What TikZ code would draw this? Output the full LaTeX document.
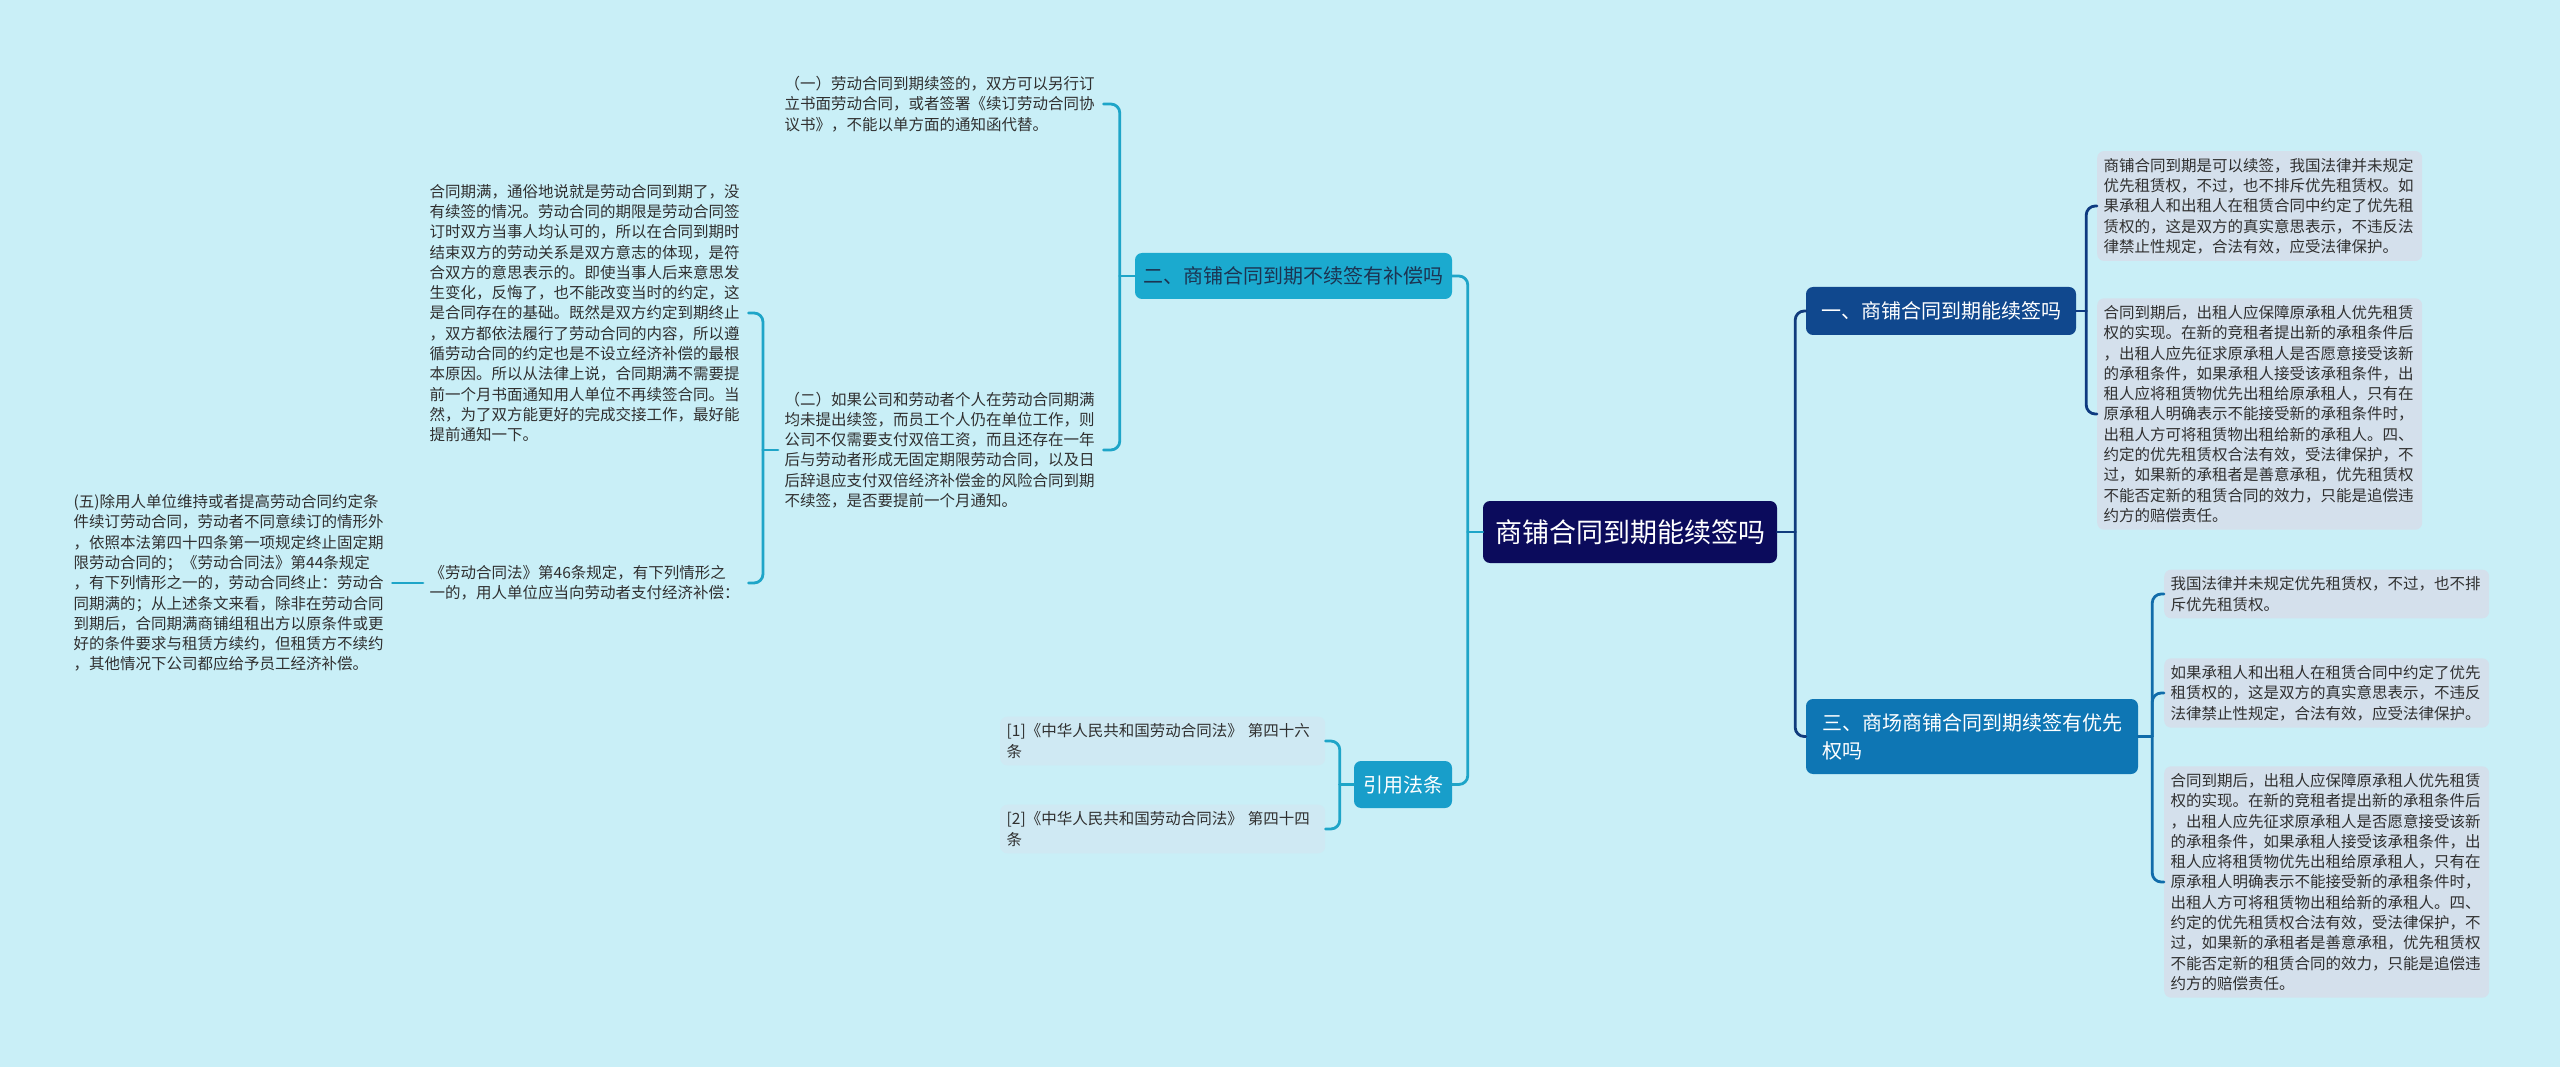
\documentclass[tikz,border=0pt]{standalone}
\usepackage{fontspec}
\setmainfont{Noto Sans CJK SC}
\definecolor{bgc}{RGB}{201,239,247}
\definecolor{rootc}{RGB}{11,11,92}
\definecolor{onec}{RGB}{16,72,142}
\definecolor{twoc}{RGB}{27,170,207}
\definecolor{threec}{RGB}{14,118,180}
\definecolor{citec}{RGB}{24,158,202}
\definecolor{leafc}{RGB}{212,224,236}
\definecolor{refc}{RGB}{207,233,243}
\definecolor{txtc}{RGB}{48,48,48}
\definecolor{twotxt}{RGB}{28,52,82}
\definecolor{rootl}{RGB}{17,60,125}
\definecolor{onel}{RGB}{14,58,128}
\definecolor{threel}{RGB}{16,108,170}
\definecolor{twol}{RGB}{30,165,200}
\begin{document}
\begin{tikzpicture}[x=1pt, y=-1pt, line join=round, line cap=round,
	leaf/.style={anchor=west, text width=312pt, align=left, inner xsep=6.5pt, inner ysep=7pt, rounded corners=7pt, text=txtc, font=\fontsize{15.5pt}{20.3pt}\selectfont},
	leafbox/.style={leaf, fill=leafc},
	refbox/.style={leaf, fill=refc},
	topic/.style={rounded corners=7pt, inner xsep=8pt, inner ysep=4pt, font=\fontsize{20pt}{28pt}\selectfont},
	link/.style={line width=2.8pt, rounded corners=9pt}]
	\useasboundingbox[fill=bgc] (0,0) rectangle (2560,1067);
	\node[topic, fill=rootc, text=white, font=\fontsize{27pt}{32pt}\selectfont, minimum width=294pt, minimum height=62pt] (root) at (1630,532) {商铺合同到期能续签吗};
	\node[topic, fill=onec, text=white, minimum width=270pt, minimum height=48pt] (one) at (1941,311) {一、商铺合同到期能续签吗};
	\node[topic, fill=twoc, text=twotxt, minimum width=317pt, minimum height=46pt] (two) at (1293.5,276) {二、商铺合同到期不续签有补偿吗};
	\node[topic, fill=threec, text=white, text width=300pt, align=left, inner xsep=16pt, minimum height=75pt] (three) at (1972,736.5) {三、商场商铺合同到期续签有优先\\权吗};
	\node[topic, fill=citec, text=white, minimum width=98pt, minimum height=47pt] (cite) at (1403,784.5) {引用法条};
	\node[leafbox] (lease) at (2097,206) {商铺合同到期是可以续签，我国法律并未规定\\优先租赁权，不过，也不排斥优先租赁权。如\\果承租人和出租人在租赁合同中约定了优先租\\赁权的，这是双方的真实意思表示，不违反法\\律禁止性规定，合法有效，应受法律保护。};
	\node[leafbox] (expire) at (2097,414) {合同到期后，出租人应保障原承租人优先租赁\\权的实现。在新的竞租者提出新的承租条件后\\，出租人应先征求原承租人是否愿意接受该新\\的承租条件，如果承租人接受该承租条件，出\\租人应将租赁物优先出租给原承租人，只有在\\原承租人明确表示不能接受新的承租条件时，\\出租人方可将租赁物出租给新的承租人。四、\\约定的优先租赁权合法有效，受法律保护，不\\过，如果新的承租者是善意承租，优先租赁权\\不能否定新的租赁合同的效力，只能是追偿违\\约方的赔偿责任。};
	\node[leafbox] (nolaw) at (2164,594) {我国法律并未规定优先租赁权，不过，也不排\\斥优先租赁权。};
	\node[leafbox] (agree) at (2164,693) {如果承租人和出租人在租赁合同中约定了优先\\租赁权的，这是双方的真实意思表示，不违反\\法律禁止性规定，合法有效，应受法律保护。};
	\node[leafbox] (protect) at (2164,882) {合同到期后，出租人应保障原承租人优先租赁\\权的实现。在新的竞租者提出新的承租条件后\\，出租人应先征求原承租人是否愿意接受该新\\的承租条件，如果承租人接受该承租条件，出\\租人应将租赁物优先出租给原承租人，只有在\\原承租人明确表示不能接受新的承租条件时，\\出租人方可将租赁物出租给新的承租人。四、\\约定的优先租赁权合法有效，受法律保护，不\\过，如果新的承租者是善意承租，优先租赁权\\不能否定新的租赁合同的效力，只能是追偿违\\约方的赔偿责任。};
	\node[leaf] (renew) at (778,104) {（一）劳动合同到期续签的，双方可以另行订\\立书面劳动合同，或者签署《续订劳动合同协\\议书》，不能以单方面的通知函代替。};
	\node[leaf] (norenew) at (778,450) {（二）如果公司和劳动者个人在劳动合同期满\\均未提出续签，而员工个人仍在单位工作，则\\公司不仅需要支付双倍工资，而且还存在一年\\后与劳动者形成无固定期限劳动合同，以及日\\后辞退应支付双倍经济补偿金的风险合同到期\\不续签，是否要提前一个月通知。};
	\node[leaf] (full) at (423,313) {合同期满，通俗地说就是劳动合同到期了，没\\有续签的情况。劳动合同的期限是劳动合同签\\订时双方当事人均认可的，所以在合同到期时\\结束双方的劳动关系是双方意志的体现，是符\\合双方的意思表示的。即使当事人后来意思发\\生变化，反悔了，也不能改变当时的约定，这\\是合同存在的基础。既然是双方约定到期终止\\，双方都依法履行了劳动合同的内容，所以遵\\循劳动合同的约定也是不设立经济补偿的最根\\本原因。所以从法律上说，合同期满不需要提\\前一个月书面通知用人单位不再续签合同。当\\然，为了双方能更好的完成交接工作，最好能\\提前通知一下。};
	\node[leaf] (art46) at (423,583) {《劳动合同法》第46条规定，有下列情形之\\一的，用人单位应当向劳动者支付经济补偿：};
	\node[leaf] (item5) at (67,583) {(五)除用人单位维持或者提高劳动合同约定条\\件续订劳动合同，劳动者不同意续订的情形外\\，依照本法第四十四条第一项规定终止固定期\\限劳动合同的；《劳动合同法》第44条规定\\，有下列情形之一的，劳动合同终止：劳动合\\同期满的；从上述条文来看，除非在劳动合同\\到期后，合同期满商铺组租出方以原条件或更\\好的条件要求与租赁方续约，但租赁方不续约\\，其他情况下公司都应给予员工经济补偿。};
	\node[refbox] (ref46) at (1000,741) {[1]《中华人民共和国劳动合同法》 第四十六\\条};
	\node[refbox] (ref44) at (1000,829) {[2]《中华人民共和国劳动合同法》 第四十四\\条};
	\draw[link, twol] (root.west) -- ++(-15,0) coordinate (sl);
	\draw[link, twol] (sl) |- (two.east);
	\draw[link, twol] (sl) |- (cite.east);
	\draw[link, rootl] (root.east) -- ++(18,0) coordinate (sr);
	\draw[link, rootl] (sr) |- (one.west);
	\draw[link, rootl] (sr) |- (three.west);
	\draw[link, onel] (one.east) -- ++(10,0) coordinate (s1);
	\draw[link, onel] (s1) |- (lease.west);
	\draw[link, onel] (s1) |- (expire.west);
	\draw[link, threel] (three.east) -- ++(14,0) coordinate (s3);
	\draw[link, threel] (s3) |- (nolaw.west);
	\draw[link, threel] (s3) |- (agree.west);
	\draw[link, threel] (s3) |- (protect.west);
	\draw[link, twol] (two.west) -- ++(-15,0) coordinate (s2);
	\draw[link, twol] (s2) |- (renew.east);
	\draw[link, twol] (s2) |- (norenew.east);
	\draw[link, twol] (norenew.west) -- ++(-15,0) coordinate (sn);
	\draw[link, twol] (sn) |- (full.east);
	\draw[link, twol] (sn) |- (art46.east);
	\draw[link, twol] (item5.east) -- (art46.west);
	\draw[link, twol] (cite.west) -- ++(-14,0) coordinate (sc);
	\draw[link, twol] (sc) |- (ref46.east);
	\draw[link, twol] (sc) |- (ref44.east);
\end{tikzpicture}
\end{document}
